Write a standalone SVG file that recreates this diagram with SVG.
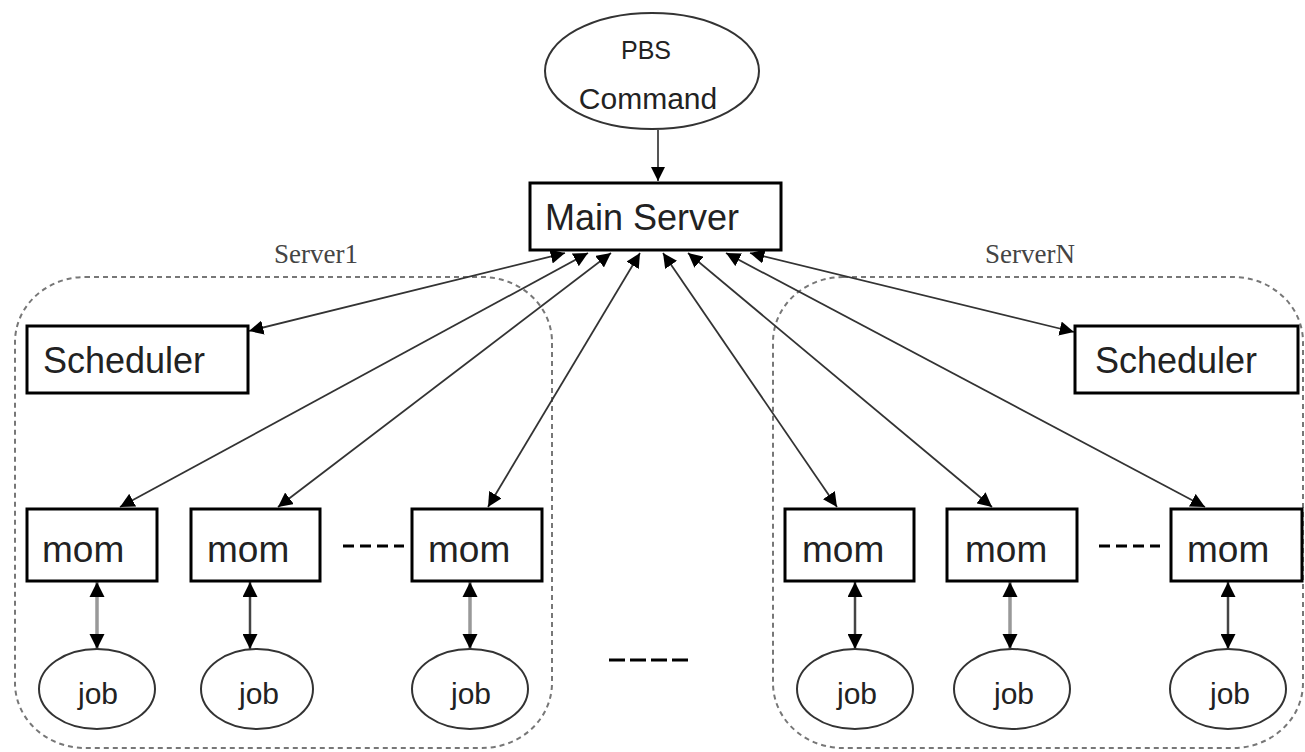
<svg xmlns="http://www.w3.org/2000/svg" width="1305" height="752" viewBox="0 0 1305 752">
<defs>
<style>
.box{fill:#fff;stroke:#000;stroke-width:3}
.ell{fill:#fff;stroke:#333;stroke-width:2}
.lbl{font-family:"Liberation Sans",Arial,sans-serif;fill:#222}
.srv{font-family:"Liberation Serif","Times New Roman",serif;fill:#444;font-size:27px}
.region{fill:none;stroke:#777;stroke-width:2;stroke-dasharray:5 4}
.conn{stroke:#333;stroke-width:1.8;fill:none;marker-start:url(#ah);marker-end:url(#ah)}
.mj{stroke:#444;stroke-width:2.5;fill:none;marker-start:url(#ah2);marker-end:url(#ah2)}
.mjg{stroke:#999;stroke-width:3.5;fill:none;marker-start:url(#ah2g);marker-end:url(#ah2g)}
.dots{stroke:#000;stroke-width:3;stroke-dasharray:11 6;fill:none}
</style>
<marker id="ah" viewBox="0 0 10 10" refX="10" refY="5" markerWidth="8" markerHeight="8" markerUnits="strokeWidth" orient="auto-start-reverse">
<path d="M0,0 L10,5 L0,10 z" fill="#000"/>
</marker>
<marker id="ah2" viewBox="0 0 10 10" refX="10" refY="5" markerWidth="6" markerHeight="6" markerUnits="strokeWidth" orient="auto-start-reverse">
<path d="M0,0 L10,5 L0,10 z" fill="#000"/>
</marker>
<marker id="ah2g" viewBox="0 0 10 10" refX="10" refY="5" markerWidth="4.3" markerHeight="4.3" markerUnits="strokeWidth" orient="auto-start-reverse">
<path d="M0,0 L10,5 L0,10 z" fill="#000"/>
</marker>
<marker id="ah3" viewBox="0 0 10 10" refX="10" refY="5" markerWidth="7" markerHeight="7" markerUnits="strokeWidth" orient="auto">
<path d="M0,0 L10,5 L0,10 z" fill="#000"/>
</marker>
</defs>
<rect width="1305" height="752" fill="#fff"/>

<g id="regions">
<rect class="region" x="15" y="277" width="537" height="471" rx="70" ry="65"/>
<rect class="region" x="773" y="277" width="530" height="471" rx="70" ry="65"/>
<text class="srv" x="316" y="263" text-anchor="middle">Server1</text>
<text class="srv" x="1030" y="263" text-anchor="middle">ServerN</text>
</g>

<g id="connectors">
<line x1="658" y1="130" x2="658" y2="181" stroke="#555" stroke-width="2" marker-end="url(#ah3)"/>
<line class="conn" x1="565" y1="253" x2="249" y2="331"/>
<line class="conn" x1="588" y1="253" x2="120" y2="507"/>
<line class="conn" x1="611" y1="253" x2="278" y2="507"/>
<line class="conn" x1="640" y1="253" x2="488" y2="507"/>
<line class="conn" x1="663" y1="253" x2="837" y2="507"/>
<line class="conn" x1="688" y1="253" x2="992" y2="507"/>
<line class="conn" x1="726" y1="253" x2="1205" y2="507"/>
<line class="conn" x1="750" y1="253" x2="1074" y2="332"/>
<line class="mjg" x1="97" y1="582" x2="97" y2="649"/>
<line class="mj" x1="250" y1="582" x2="250" y2="649"/>
<line class="mjg" x1="470" y1="582" x2="470" y2="649"/>
<line class="mj" x1="855" y1="582" x2="855" y2="649"/>
<line class="mjg" x1="1010" y1="582" x2="1010" y2="649"/>
<line class="mj" x1="1228" y1="582" x2="1228" y2="649"/>
<line class="dots" x1="343" y1="546" x2="404" y2="546"/>
<line class="dots" x1="1099" y1="546" x2="1160" y2="546"/>
<line stroke="#000" stroke-width="3" stroke-dasharray="16 5" x1="609" y1="660" x2="690" y2="660"/>
</g>

<g id="pbs">
<ellipse class="ell" cx="652" cy="71" rx="107" ry="58"/>
<text class="lbl" x="646" y="59" font-size="25" text-anchor="middle">PBS</text>
<text class="lbl" x="648" y="109" font-size="30" text-anchor="middle">Command</text>
</g>

<g id="main-server">
<rect class="box" x="530" y="183" width="251" height="67"/>
<text class="lbl" x="545" y="230" font-size="36">Main Server</text>
</g>

<g id="scheduler1">
<rect class="box" x="27" y="326" width="221" height="67"/>
<text class="lbl" x="43" y="373" font-size="36">Scheduler</text>
</g>
<g id="schedulerN">
<rect class="box" x="1075" y="326" width="223" height="67"/>
<text class="lbl" x="1095" y="373" font-size="36">Scheduler</text>
</g>

<g id="mom1"><rect class="box" x="27" y="509" width="130" height="72"/><text class="lbl" x="42" y="562" font-size="37">mom</text></g>
<g id="mom2"><rect class="box" x="191" y="509" width="129" height="72"/><text class="lbl" x="207" y="562" font-size="37">mom</text></g>
<g id="mom3"><rect class="box" x="412" y="509" width="130" height="72"/><text class="lbl" x="428" y="562" font-size="37">mom</text></g>
<g id="mom4"><rect class="box" x="785" y="509" width="129" height="72"/><text class="lbl" x="802" y="562" font-size="37">mom</text></g>
<g id="mom5"><rect class="box" x="947" y="509" width="130" height="72"/><text class="lbl" x="965" y="562" font-size="37">mom</text></g>
<g id="mom6"><rect class="box" x="1171" y="509" width="131" height="72"/><text class="lbl" x="1187" y="562" font-size="37">mom</text></g>

<g id="job1"><ellipse class="ell" cx="97" cy="689" rx="58" ry="40"/><text class="lbl" x="98" y="704" font-size="30" text-anchor="middle">job</text></g>
<g id="job2"><ellipse class="ell" cx="257" cy="689" rx="56" ry="40"/><text class="lbl" x="259" y="704" font-size="30" text-anchor="middle">job</text></g>
<g id="job3"><ellipse class="ell" cx="470" cy="689" rx="58" ry="40"/><text class="lbl" x="471" y="704" font-size="30" text-anchor="middle">job</text></g>
<g id="job4"><ellipse class="ell" cx="855" cy="689" rx="58" ry="40"/><text class="lbl" x="857" y="704" font-size="30" text-anchor="middle">job</text></g>
<g id="job5"><ellipse class="ell" cx="1012" cy="689" rx="58" ry="40"/><text class="lbl" x="1014" y="704" font-size="30" text-anchor="middle">job</text></g>
<g id="job6"><ellipse class="ell" cx="1228" cy="689" rx="58" ry="40"/><text class="lbl" x="1230" y="704" font-size="30" text-anchor="middle">job</text></g>
</svg>
